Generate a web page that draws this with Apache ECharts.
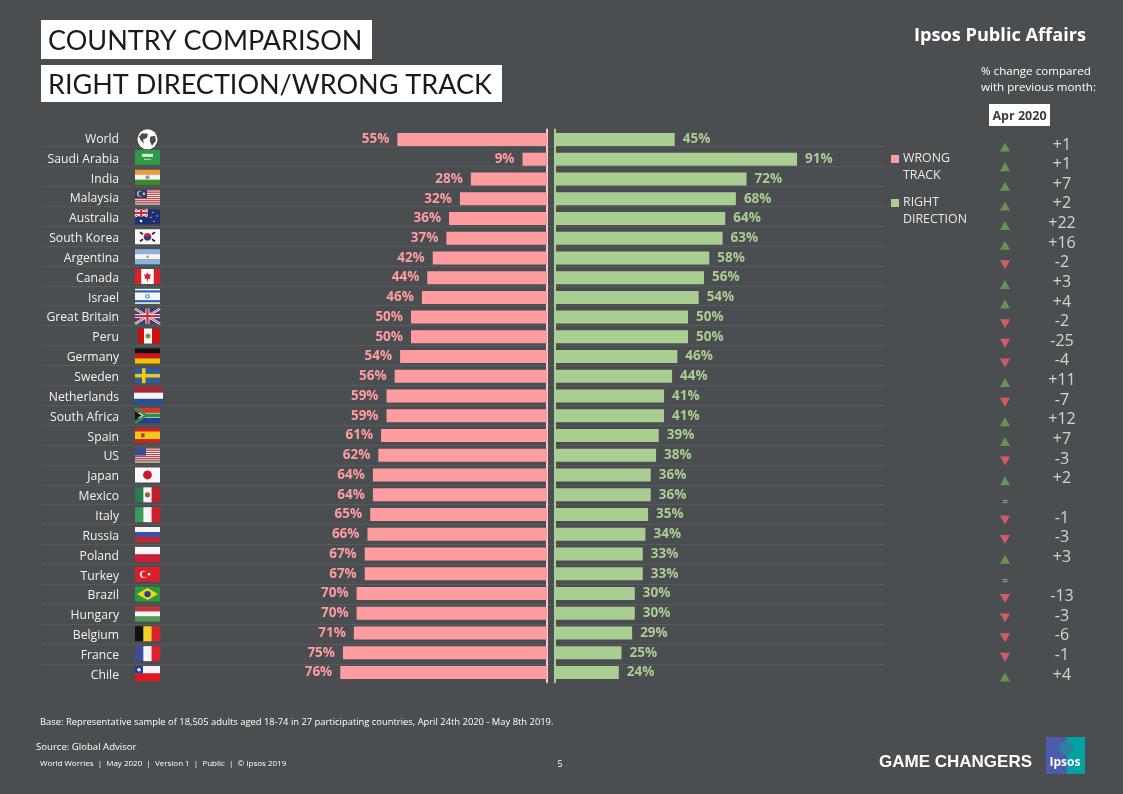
<!DOCTYPE html>
<html>
<head>
<meta charset="utf-8" />
<title>Country comparison</title>
<script src="https://cdn.jsdelivr.net/npm/echarts@6/dist/echarts.min.js"></script>
<style>
  html, body { margin: 0; padding: 0; background: #4b4e50; }
  #chart { width: 1123px; height: 794px; }
</style>
</head>
<body>
<div id="chart"></div>
<script>
const countries = ["World", "Saudi Arabia", "India", "Malaysia", "Australia", "South Korea", "Argentina", "Canada", "Israel", "Great Britain", "Peru", "Germany", "Sweden", "Netherlands", "South Africa", "Spain", "US", "Japan", "Mexico", "Italy", "Russia", "Poland", "Turkey", "Brazil", "Hungary", "Belgium", "France", "Chile"];
const wrongTrack = [55, 9, 28, 32, 36, 37, 42, 44, 46, 50, 50, 54, 56, 59, 59, 61, 62, 64, 64, 65, 66, 67, 67, 70, 70, 71, 75, 76];
const rightDirection = [45, 91, 72, 68, 64, 63, 58, 56, 54, 50, 50, 46, 44, 41, 41, 39, 38, 36, 36, 35, 34, 33, 33, 30, 30, 29, 25, 24];
// null = no change, shown as "="
const monthChange = [1, 1, 7, 2, 22, 16, -2, 3, 4, -2, -25, -4, 11, -7, 12, 7, -3, 2, null, -1, -3, 3, null, -13, -3, -6, -1, 4];

const BG = "#4b4e50";
const PINK = "#ff9c9f";
const GREEN = "#a9ce91";
const UP = "#70a555";
const DOWN = "#f2606c";
const UI_FONT = "'Open Sans', sans-serif";
const NARROW_FONT = "'Liberation Sans Narrow', 'Open Sans', sans-serif";
const CHANGE_TEXT_X = 1062;
const ARROW_X = 1005;

// flag artwork, drawn in a 25x15 box: r = rect, c = circle, l = line, p = polygon
const hBands = (...c) => c.map((col, i) => ["r", 0, (15 * i) / c.length, 25, 15 / c.length + 0.2, col]);
const vBands = (...c) => c.map((col, i) => ["r", (25 * i) / c.length, 0, 25 / c.length + 0.2, 15, col]);
const jack = (w, h) => [
  ["r", 0, 0, w, h, "#2a3f86"],
  ["l", 0, 0, w, h, "#fff", 2.4], ["l", w, 0, 0, h, "#fff", 2.4],
  ["l", 0, 0, w, h, "#d0242f", 0.9], ["l", w, 0, 0, h, "#d0242f", 0.9],
  ["r", w / 2 - 2, 0, 4, h, "#fff"], ["r", 0, h / 2 - 2, w, 4, "#fff"],
  ["r", w / 2 - 1.1, 0, 2.2, h, "#d0242f"], ["r", 0, h / 2 - 1.1, w, 2.2, "#d0242f"],
];
const msStripes = [];
for (let i = 0; i < 7; i++) msStripes.push(["r", 0, i * 2.14, 25, 1.07, "#d8433f"], ["r", 0, i * 2.14 + 1.07, 25, 1.07, "#f6f0f0"]);
const usStripes = [];
for (let i = 0; i < 7; i++) usStripes.push(["r", 0, i * 2.14, 25, 1.07, "#c8424a"], ["r", 0, i * 2.14 + 1.07, 25, 1.07, "#f2eeee"]);

const flagArt = {
  World: [
    ["c", 12.5, 7.5, 10, "#fff"],
    ["p", [[7, 1.5], [13, 2], [12, 6], [8, 8], [9, 12], [6, 9], [4, 5]], BG],
    ["p", [[15, 5], [20, 4], [21, 9], [17, 14], [15, 10]], BG],
  ],
  "Saudi Arabia": [["r", 0, 0, 25, 15, "#2f9a45"], ["r", 7, 4, 11, 3, "#d8ecd8"], ["r", 9, 9, 7, 0.8, "#d8ecd8"]],
  India: [...hBands("#f09a3a", "#f4f4f4", "#3d8a2e"), ["c", 12.5, 7.5, 2, "#8f95b8"]],
  Malaysia: [...msStripes, ["r", 0, 0, 12, 8.5, "#1f3d84"], ["c", 5, 4.2, 3, "#f3d03e"], ["c", 6, 4.2, 2.5, "#1f3d84"], ["c", 9, 4.2, 1.3, "#f3d03e"]],
  Australia: [["r", 0, 0, 25, 15, "#1c2f72"], ...jack(12.5, 7), ["c", 6, 11.5, 1.3, "#fff"], ["c", 18, 3, 0.6, "#fff"], ["c", 22, 6.5, 0.6, "#fff"], ["c", 19, 12, 0.6, "#fff"], ["c", 16, 8, 0.6, "#fff"]],
  "South Korea": [["r", 0, 0, 25, 15, "#f8f8f8"], ["c", 12.5, 7.5, 3.8, "#c8273a"], ["p", [[8.8, 7.5], [16.2, 7.5], [14.5, 11], [10.5, 11]], "#20408e"], ["l", 5, 3, 8, 5, "#222", 1.6], ["l", 17, 5, 20, 3, "#222", 1.6], ["l", 5, 12, 8, 10, "#222", 1.6], ["l", 17, 10, 20, 12, "#222", 1.6]],
  Argentina: [...hBands("#8db4de", "#f5f5f5", "#8db4de"), ["c", 12.5, 7.5, 1.5, "#d8a03a"]],
  Canada: [...vBands("#d9222a", "#fff", "#fff", "#d9222a"), ["p", [[12.5, 3.5], [13.8, 5.5], [16, 5.5], [14.8, 8.5], [15.5, 10], [13, 9.8], [13, 12], [12, 12], [12, 9.8], [9.5, 10], [10.2, 8.5], [9, 5.5], [11.2, 5.5]], "#d9222a"]],
  Israel: [["r", 0, 0, 25, 15, "#f6f6f6"], ["r", 0, 1.5, 25, 2.2, "#2a62b0"], ["r", 0, 11.3, 25, 2.2, "#2a62b0"], ["c", 12.5, 7.5, 2.2, "#2a62b0"], ["c", 12.5, 7.5, 1.3, "#f6f6f6"]],
  "Great Britain": jack(25, 15),
  Peru: [["r", 3, 0, 6, 15, "#cc1010"], ["r", 9, 0, 8, 15, "#f6f6f6"], ["r", 17, 0, 8, 15, "#cc1010"], ["c", 13, 7.5, 2.6, "#8a9a50"], ["c", 13, 7, 1.2, "#b8642e"]],
  Germany: hBands("#111", "#d4141c", "#f2c200"),
  Sweden: [["r", 0, 0, 25, 15, "#2d5a9c"], ["r", 7, 0, 3.6, 15, "#f2c71c"], ["r", 0, 5.7, 25, 3.6, "#f2c71c"]],
  Netherlands: [["r", -1, -2, 29, 6.6, "#a32a35"], ["r", -1, 4.6, 29, 6.2, "#f6f6f6"], ["r", -1, 10.8, 29, 6.6, "#2b4e8d"]],
  "South Africa": [...hBands("#d8352c", "#fff", "#24408e"), ["l", 0, 0, 11, 7.5, "#2f8f4a", 2.8], ["l", 0, 15, 11, 7.5, "#2f8f4a", 2.8], ["r", 10, 5.5, 15, 4, "#2f8f4a"], ["p", [[0, 3.5], [7, 7.5], [0, 11.5]], "#111"]],
  Spain: [["r", 0, 0, 25, 15, "#c8242a"], ["r", 0, 3.7, 25, 7.6, "#f5c518"], ["r", 6, 5.5, 3.5, 4, "#a04a28"]],
  US: [...usStripes, ["r", 0, 0, 11, 8, "#3a4f8e"]],
  Japan: [["r", 0, 0, 25, 15, "#f8f8f8"], ["c", 12.5, 7.5, 4.4, "#c41c2f"]],
  Mexico: [...vBands("#2a7a52", "#f4f4f4", "#c0202c"), ["c", 12.5, 7.5, 2.6, "#8c6a3a"]],
  Italy: vBands("#3a9a5a", "#f5f5f5", "#d0202c"),
  Russia: hBands("#f4f4f4", "#3a4fa8", "#c8242c"),
  Poland: hBands("#f6f6f6", "#d01c38"),
  Turkey: [["r", 0, 0, 25, 15, "#d81f2a"], ["c", 8.5, 7.5, 3.6, "#fff"], ["c", 9.6, 7.5, 2.9, "#d81f2a"], ["c", 14, 7.5, 1.2, "#fff"]],
  Brazil: [["r", 0, 0, 25, 15, "#2a9a3e"], ["p", [[12.5, 1.5], [23, 7.5], [12.5, 13.5], [2, 7.5]], "#f5d31a"], ["c", 12.5, 7.5, 3.2, "#24408e"]],
  Hungary: hBands("#c8323a", "#f4f4f4", "#4f9a55"),
  Belgium: vBands("#111", "#f3d21f", "#d8232c"),
  France: vBands("#3a4da0", "#f6f6f6", "#e0202c"),
  Chile: [["r", 0, 0, 25, 7.5, "#f6f6f6"], ["r", 0, 7.5, 25, 7.5, "#e8141e"], ["r", 0, 0, 8, 7.5, "#1c3e9c"], ["c", 4, 3.7, 1.7, "#fff"]],
};

function flagShape(s, x0, y0) {
  if (s[0] === "r") {
    return { type: "rect", shape: { x: x0 + s[1], y: y0 + s[2], width: s[3], height: s[4] }, style: { fill: s[5] } };
  }
  if (s[0] === "c") {
    return { type: "circle", shape: { cx: x0 + s[1], cy: y0 + s[2], r: s[3] }, style: { fill: s[4] } };
  }
  if (s[0] === "l") {
    return { type: "line", shape: { x1: x0 + s[1], y1: y0 + s[2], x2: x0 + s[3], y2: y0 + s[4] }, style: { stroke: s[5], lineWidth: s[6] } };
  }
  return { type: "polygon", shape: { points: s[1].map((p) => [x0 + p[0], y0 + p[1]]) }, style: { fill: s[2] } };
}

function renderFlag(params, api) {
  const name = countries[api.value(0)];
  const y = api.coord([0, api.value(0)])[1];
  const x0 = params.coordSys.x + 93;
  const y0 = y - (name === "World" ? 7.5 : 9.3);
  return { type: "group", children: (flagArt[name] || []).map((s) => flagShape(s, x0, y0)) };
}

function whiteBox(x, y, w, h, text, font) {
  return [
    { type: "rect", shape: { x, y, width: w, height: h }, style: { fill: "#fff" } },
    { type: "text", x: x + 7, y: y + h / 2 + 2, style: { text, fill: "#1a1a1a", font, textVerticalAlign: "middle" } },
  ];
}

function plainText(x, y, text, font, fill = "#fff", align = "left") {
  return { type: "text", x, y, style: { text, font, fill, textAlign: align, textVerticalAlign: "middle" } };
}

const hiddenValueAxis = (gridIndex, extra) => ({ type: "value", gridIndex, show: false, min: 0, max: 100, ...extra });
const hiddenCatAxis = (gridIndex, extra) => ({ type: "category", gridIndex, data: countries, inverse: true, axisTick: { show: false }, axisLabel: { show: false }, axisLine: { show: false }, ...extra });

const chart = echarts.init(document.getElementById("chart"), null, { renderer: "canvas" });
chart.setOption({
  animation: false,
  backgroundColor: BG,
  grid: [
    { left: 42, width: 843, top: 126.6, height: 557.2 }, // dotted row lines
    { left: 275, width: 272, top: 129.6, height: 552.7 },
    { left: 555, width: 266, top: 129.6, height: 552.7 },
    { left: 0, width: 1123, top: 135.2, height: 549.6 },
    { left: 42, width: 843, top: 129.4, height: 555.8 }, // country names and flags
  ],
  xAxis: [
    hiddenValueAxis(0),
    hiddenValueAxis(1, { inverse: true }),
    hiddenValueAxis(2),
    hiddenValueAxis(3, { max: 1123 }),
    hiddenValueAxis(4),
  ],
  yAxis: [
    hiddenCatAxis(0, {
      splitLine: { show: true, showMinLine: false, showMaxLine: false, lineStyle: { color: "#646769", type: "dotted", width: 1 } },
    }),
    hiddenCatAxis(1, { position: "right", axisLine: { show: true, onZero: false, lineStyle: { color: "#f3c9c9", width: 2 } } }),
    hiddenCatAxis(2, { position: "left", axisLine: { show: true, onZero: false, lineStyle: { color: GREEN, width: 2 } } }),
    hiddenCatAxis(3),
    hiddenCatAxis(4, {
      axisLabel: { show: true, inside: true, margin: 77, align: "right", color: "#f2f2f2", fontFamily: UI_FONT, fontSize: 12.2 },
    }),
  ],
  series: [
    {
      type: "custom",
      xAxisIndex: 4,
      yAxisIndex: 4,
      renderItem: renderFlag,
      data: countries.map((c, i) => [i]),
      encode: { y: 0 },
      silent: true,
    },
    {
      name: "WRONG TRACK",
      type: "bar",
      xAxisIndex: 1,
      yAxisIndex: 1,
      data: wrongTrack,
      barWidth: 13,
      itemStyle: { color: PINK },
      label: { show: true, position: "left", distance: 8, formatter: "{c}%", color: PINK, fontFamily: UI_FONT, fontWeight: "bold", fontSize: 13.5 },
    },
    {
      name: "RIGHT DIRECTION",
      type: "bar",
      xAxisIndex: 2,
      yAxisIndex: 2,
      data: rightDirection,
      barWidth: 13,
      itemStyle: { color: GREEN },
      label: { show: true, position: "right", distance: 8, formatter: "{c}%", color: GREEN, fontFamily: UI_FONT, fontWeight: "bold", fontSize: 13.5 },
    },
    {
      name: "arrows",
      type: "scatter",
      xAxisIndex: 3,
      yAxisIndex: 3,
      data: monthChange.map((v, i) => ({
        value: [ARROW_X, i],
        symbol: "triangle",
        symbolSize: v === null ? 1 : [10, 9],
        symbolRotate: v < 0 ? 180 : 0,
        symbolOffset: [0, 2],
        itemStyle: { color: v === null ? "transparent" : v < 0 ? DOWN : UP },
        label: v === null
          ? { show: true, position: "inside", offset: [0, 2], formatter: "=", color: "#fff", fontSize: 10, fontFamily: UI_FONT }
          : { show: false },
      })),
    },
    {
      name: "change",
      type: "scatter",
      xAxisIndex: 3,
      yAxisIndex: 3,
      symbolSize: 1,
      itemStyle: { color: "transparent" },
      data: monthChange.map((v, i) => [CHANGE_TEXT_X, i, v]),
      label: {
        show: true,
        position: "inside",
        color: "#f4f4f4",
        fontFamily: UI_FONT,
        fontSize: 16,
        formatter: (p) => (p.value[2] === null ? "" : (p.value[2] > 0 ? "+" : "") + p.value[2]),
      },
    },
  ],
  graphic: [
    ...whiteBox(41, 20, 331, 39, "COUNTRY COMPARISON", "27px Lato, sans-serif"),
    ...whiteBox(41, 65, 461, 37, "RIGHT DIRECTION/WRONG TRACK", "27px Lato, sans-serif"),
    plainText(1086, 36, "Ipsos Public Affairs", `bold 18.2px ${UI_FONT}`, "#fff", "right"),
    plainText(981, 72, "% change compared", `11.6px ${UI_FONT}`),
    plainText(981, 88, "with previous month:", `11.6px ${UI_FONT}`),
    { type: "rect", shape: { x: 989, y: 104, width: 61, height: 22 }, style: { fill: "#fff" } },
    plainText(1019.5, 116, "Apr 2020", `bold 12.5px ${UI_FONT}`, "#3a3d3f", "center"),
    { type: "rect", shape: { x: 891, y: 155, width: 8, height: 8 }, style: { fill: PINK } },
    plainText(903, 158, "WRONG", `12.4px ${UI_FONT}`, "#e8e8e8"),
    plainText(903, 175, "TRACK", `12.4px ${UI_FONT}`, "#e8e8e8"),
    { type: "rect", shape: { x: 891, y: 199, width: 8, height: 8 }, style: { fill: GREEN } },
    plainText(903, 202, "RIGHT", `12.4px ${UI_FONT}`, "#e8e8e8"),
    plainText(903, 219, "DIRECTION", `12.4px ${UI_FONT}`, "#e8e8e8"),
    plainText(40, 722, "Base: Representative sample of 18,505 adults aged 18-74 in 27 participating countries, April 24th 2020 - May 8th 2019.", `9.4px ${NARROW_FONT}`),
    plainText(36, 747, "Source: Global Advisor", `9.6px ${NARROW_FONT}`),
    plainText(40, 764, "World Worries  |  May 2020  |  Version 1  |  Public  |  © Ipsos 2019", `8px ${NARROW_FONT}`),
    plainText(560, 764, "5", `9px ${UI_FONT}`, "#fff", "center"),
    plainText(879, 762, "GAME CHANGERS", "bold 17px 'Liberation Sans', sans-serif"),
    // logo
    { type: "rect", shape: { x: 1046, y: 737, width: 39, height: 37 }, style: { fill: "#00a3a1" } },
    { type: "rect", shape: { x: 1046, y: 737, width: 21, height: 37 }, style: { fill: "#4a5cab" } },
    { type: "circle", shape: { cx: 1066, cy: 748, r: 7 }, style: { fill: "#2f7f9e" } },
    plainText(1065, 763, "Ipsos", `bold 12px ${NARROW_FONT}`, "#fff", "center"),
  ],
});
</script>
</body>
</html>
